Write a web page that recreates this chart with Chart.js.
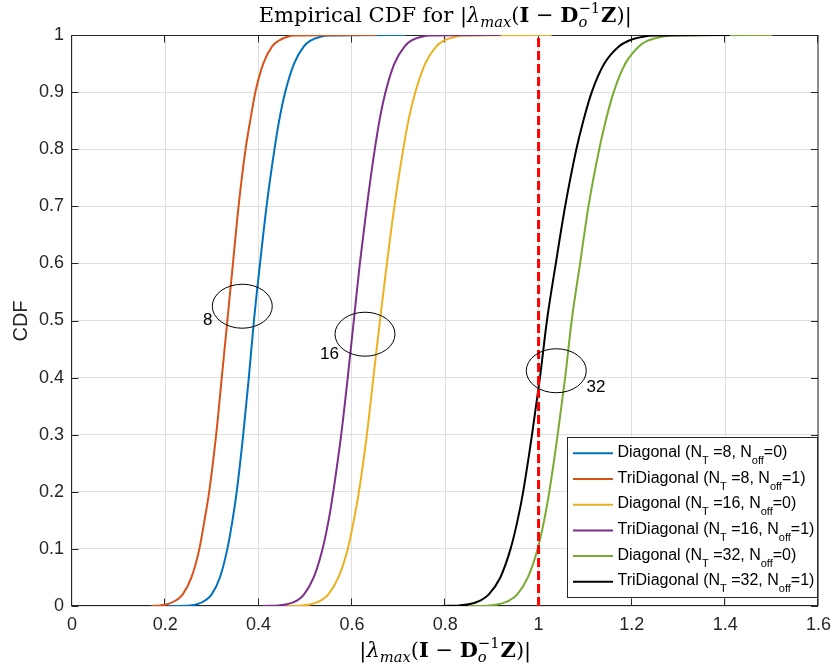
<!DOCTYPE html>
<html>
<head>
<meta charset="utf-8">
<script src="https://cdn.jsdelivr.net/npm/chart.js@4.4.1/dist/chart.umd.min.js"></script>
<style>
  html, body { margin: 0; padding: 0; background: #ffffff; }
  #wrap { width: 839px; height: 668px; }
</style>
</head>
<body>
<div id="wrap"><canvas id="c" width="839" height="668"></canvas></div>
<script>
// Empirical CDF levels and the |lambda_max| value reached at each level, per configuration
const cdfLevels = [0, 0.001, 0.003, 0.01, 0.02, 0.05, 0.1, 0.15, 0.2, 0.3, 0.4, 0.5, 0.6, 0.7, 0.8, 0.85, 0.9, 0.95, 0.98, 0.99, 0.997, 0.999, 1];
const diagN8  = [0.205, 0.253, 0.268, 0.286, 0.299, 0.317, 0.333, 0.344, 0.353, 0.367, 0.379, 0.390, 0.403, 0.417, 0.434, 0.444, 0.457, 0.476, 0.497, 0.511, 0.533, 0.551, 0.714];
const triN8   = [0.170, 0.188, 0.204, 0.223, 0.237, 0.256, 0.273, 0.284, 0.294, 0.309, 0.321, 0.333, 0.345, 0.357, 0.372, 0.382, 0.393, 0.410, 0.429, 0.443, 0.462, 0.478, 0.653];
const diagN16 = [0.450, 0.493, 0.512, 0.534, 0.549, 0.571, 0.591, 0.604, 0.615, 0.632, 0.646, 0.660, 0.675, 0.691, 0.710, 0.721, 0.736, 0.757, 0.781, 0.797, 0.822, 0.842, 1.028];
const triN16  = [0.409, 0.443, 0.461, 0.483, 0.497, 0.518, 0.537, 0.550, 0.560, 0.577, 0.591, 0.604, 0.617, 0.632, 0.649, 0.659, 0.672, 0.691, 0.713, 0.727, 0.750, 0.768, 0.919];
const diagN32 = [0.850, 0.895, 0.914, 0.938, 0.954, 0.977, 0.998, 1.012, 1.023, 1.041, 1.057, 1.071, 1.089, 1.107, 1.130, 1.144, 1.161, 1.186, 1.215, 1.234, 1.264, 1.287, 1.501];
const triN32  = [0.793, 0.830, 0.850, 0.876, 0.893, 0.918, 0.940, 0.955, 0.967, 0.986, 1.003, 1.018, 1.037, 1.057, 1.081, 1.096, 1.114, 1.141, 1.172, 1.193, 1.224, 1.250, 1.410];

// Series description (legend)
const seriesKinds = ['Diagonal', 'TriDiagonal', 'Diagonal', 'TriDiagonal', 'Diagonal', 'TriDiagonal'];
const seriesNT    = [8, 8, 16, 16, 32, 32];
const seriesNoff  = [0, 1, 0, 1, 0, 1];
const seriesX     = [diagN8, triN8, diagN16, triN16, diagN32, triN32];

// Convergence threshold |lambda_max| = 1
const threshold = 1.0;

// Axis ticks
const xTicks = [0, 0.2, 0.4, 0.6, 0.8, 1, 1.2, 1.4, 1.6];
const yTicks = [0, 0.1, 0.2, 0.3, 0.4, 0.5, 0.6, 0.7, 0.8, 0.9, 1];

// Group markers: ellipse around each pair of curves with its N_T label (data units)
const groupText    = ['8', '16', '32'];
const groupCenterX = [0.365, 0.628, 1.038];
const groupCenterY = [0.525, 0.476, 0.412];
const groupLabelX  = [0.291, 0.552, 1.123];
const groupLabelY  = [0.500, 0.440, 0.383];

const COLORS = ['#0072BD', '#D95319', '#EDB120', '#7E2F8E', '#77AC30', '#000000'];
const AXIS = '#262626';
const SANS = '"Liberation Sans", Arial, Helvetica, sans-serif';
const SERIF = '"DejaVu Serif", "Liberation Serif", serif';

const datasets = seriesX.map((xs, i) => ({
  label: `${seriesKinds[i]} (N_T =${seriesNT[i]}, N_off=${seriesNoff[i]})`,
  data: xs.map((v, k) => ({ x: v, y: cdfLevels[k] })),
  borderColor: COLORS[i],
  backgroundColor: COLORS[i],
  borderWidth: 2,
  pointRadius: 0,
  cubicInterpolationMode: 'monotone',
  fill: false,
  order: 6 - i
}));
datasets.push({
  label: 'threshold',
  data: [{ x: threshold, y: 0 }, { x: threshold, y: 1 }],
  borderColor: '#FF0000',
  borderWidth: 3,
  borderDash: [9, 4],
  pointRadius: 0,
  fill: false,
  order: 0
});

// ---- math text helpers (serif title / axis label) ----
function mathFont(style, px) {
  const pre = style === 'i' ? 'italic ' : style === 'b' ? 'bold ' : '';
  return pre + px.toFixed(1) + 'px ' + SERIF;
}
function mathWidth(ctx, it, size) {
  if (it.sup !== undefined) {
    ctx.font = mathFont('r', size * 0.7);
    const a = ctx.measureText(it.sup).width;
    ctx.font = mathFont('i', size * 0.7);
    const b = ctx.measureText(it.sub).width;
    return Math.max(a, b) + size * 0.05;
  }
  ctx.font = mathFont(it.s || 'r', size * (it.k || 1));
  return ctx.measureText(it.t).width;
}
function drawMath(ctx, items, cx, baseline, size) {
  const widths = items.map(it => mathWidth(ctx, it, size));
  const total = widths.reduce((p, c) => p + c, 0);
  let xx = cx - total / 2;
  ctx.textAlign = 'left';
  ctx.textBaseline = 'alphabetic';
  items.forEach((it, i) => {
    if (it.sup !== undefined) {
      ctx.font = mathFont('r', size * 0.7);
      ctx.fillText(it.sup, xx, baseline - size * 0.42);
      ctx.font = mathFont('i', size * 0.7);
      ctx.fillText(it.sub, xx, baseline + size * 0.22);
    } else {
      ctx.font = mathFont(it.s || 'r', size * (it.k || 1));
      ctx.fillText(it.t, xx, baseline + (it.dy || 0) * size);
    }
    xx += widths[i];
  });
}
const normExpr = [
  { t: '|' }, { t: 'λ', s: 'i' }, { t: 'max', s: 'i', k: 0.7, dy: 0.22 },
  { t: '(' }, { t: 'I', s: 'b' }, { t: ' − ' }, { t: 'D', s: 'b' },
  { sup: '−1', sub: 'o' }, { t: 'Z', s: 'b' }, { t: ')' }, { t: '|' }
];
const titleExpr = [{ t: 'Empirical CDF for ' }].concat(normExpr);

const tickText = v => String(Math.round(v * 10) / 10);

// ---- decorations: box, inner ticks, ellipses, legend, titles ----
const decor = {
  id: 'decor',
  beforeDatasetsDraw(chart) {
    const { ctx, chartArea: a, scales: { x, y } } = chart;
    ctx.save();
    ctx.strokeStyle = AXIS;
    ctx.lineWidth = 1;
    const L = a.left - 0.5, R = a.right - 0.5, T = a.top + 0.5, B = a.bottom - 0.5;
    ctx.strokeRect(L, T, R - L, B - T);
    const tl = 7;
    ctx.beginPath();
    xTicks.forEach(v => {
      const px = Math.round(x.getPixelForValue(v)) - 0.5;
      ctx.moveTo(px, B); ctx.lineTo(px, B - tl);
      ctx.moveTo(px, T); ctx.lineTo(px, T + tl);
    });
    yTicks.forEach(v => {
      const py = Math.round(y.getPixelForValue(v)) + 0.5;
      ctx.moveTo(L, py); ctx.lineTo(L + tl, py);
      ctx.moveTo(R, py); ctx.lineTo(R - tl, py);
    });
    ctx.stroke();
    ctx.restore();
  },
  afterDatasetsDraw(chart) {
    const { ctx, scales: { x, y } } = chart;
    ctx.save();
    // group ellipses and N_T labels
    const rx = 30, ry = 22;
    ctx.strokeStyle = '#000000';
    ctx.lineWidth = 1;
    groupText.forEach((txt, i) => {
      ctx.beginPath();
      ctx.ellipse(x.getPixelForValue(groupCenterX[i]), y.getPixelForValue(groupCenterY[i]), rx, ry, 0, 0, Math.PI * 2);
      ctx.stroke();
      ctx.fillStyle = '#000000';
      ctx.font = '17px ' + SANS;
      ctx.textAlign = 'center';
      ctx.textBaseline = 'middle';
      ctx.fillText(txt, x.getPixelForValue(groupLabelX[i]), y.getPixelForValue(groupLabelY[i]));
    });

    // legend
    const lx = 567, ly = 437, lw = 251, lh = 161;
    ctx.fillStyle = '#ffffff';
    ctx.fillRect(lx, ly, lw, lh);
    ctx.strokeStyle = AXIS;
    ctx.strokeRect(lx + 0.5, ly + 0.5, lw - 1, lh - 1);
    const rowH = 25.7;
    chart.data.datasets.slice(0, 6).forEach((ds, i) => {
      const yy = ly + 16.3 + i * rowH;
      ctx.strokeStyle = ds.borderColor;
      ctx.lineWidth = 2;
      ctx.beginPath();
      ctx.moveTo(573, yy); ctx.lineTo(613, yy);
      ctx.stroke();
      const base = yy + 3.5;
      let xx = 617.5;
      ctx.fillStyle = '#000000';
      ctx.textAlign = 'left';
      ctx.textBaseline = 'alphabetic';
      const parts = [
        { t: `${seriesKinds[i]} (N`, f: 16, d: 0 },
        { t: 'T', f: 11, d: 7 },
        { t: ` =${seriesNT[i]}, N`, f: 16, d: 0 },
        { t: 'off', f: 11, d: 7 },
        { t: `=${seriesNoff[i]})`, f: 16, d: 0 }
      ];
      parts.forEach(p => {
        ctx.font = p.f + 'px ' + SANS;
        ctx.fillText(p.t, xx, base + p.d);
        xx += ctx.measureText(p.t).width;
      });
    });
    ctx.restore();
  },
  afterDraw(chart) {
    const { ctx, chartArea: a } = chart;
    ctx.save();
    ctx.fillStyle = '#000000';
    const cx = (a.left + a.right) / 2;
    drawMath(ctx, titleExpr, cx, 22, 21);
    drawMath(ctx, normExpr, cx, 657, 21);
    // y axis label
    ctx.translate(27, 321);
    ctx.rotate(-Math.PI / 2);
    ctx.font = '20px ' + SANS;
    ctx.textAlign = 'center';
    ctx.textBaseline = 'alphabetic';
    ctx.fillStyle = AXIS;
    ctx.fillText('CDF', 0, 0);
    ctx.restore();
  }
};

new Chart(document.getElementById('c'), {
  type: 'line',
  data: { datasets },
  options: {
    responsive: false,
    animation: false,
    devicePixelRatio: 1,
    layout: { padding: { left: 0, top: 35, right: 16, bottom: 0 } },
    plugins: { legend: { display: false }, title: { display: false }, tooltip: { enabled: false } },
    scales: {
      x: {
        type: 'linear', min: 0, max: 1.6,
        afterFit: s => { s.height = 62; },
        afterBuildTicks: s => { s.ticks = xTicks.map(v => ({ value: v })); },
        ticks: { color: AXIS, font: { family: SANS, size: 18 }, padding: 8, maxRotation: 0, autoSkip: false, callback: tickText },
        grid: { color: '#dfdfdf', lineWidth: 1, drawTicks: false },
        border: { display: false }
      },
      y: {
        type: 'linear', min: 0, max: 1,
        afterFit: s => { s.width = 72; },
        afterBuildTicks: s => { s.ticks = yTicks.map(v => ({ value: v })); },
        ticks: { color: AXIS, font: { family: SANS, size: 18 }, padding: 8, autoSkip: false, callback: tickText },
        grid: { color: '#dfdfdf', lineWidth: 1, drawTicks: false },
        border: { display: false }
      }
    }
  },
  plugins: [decor]
});
</script>
</body>
</html>
